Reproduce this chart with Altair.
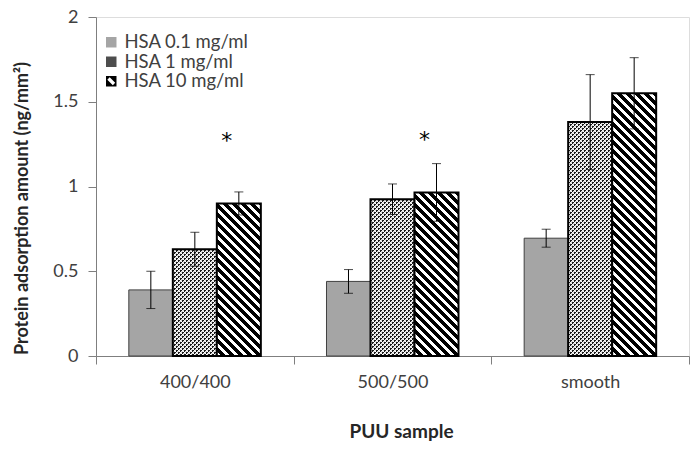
import math
import altair as alt
import pandas as pd

# ---------------- data ----------------
categories = ["400/400", "500/500", "smooth"]
series = ["HSA 0.1 mg/ml", "HSA 1 mg/ml", "HSA 10 mg/ml"]
hsa_01 = [0.39, 0.44, 0.695]
hsa_01_err = [0.11, 0.07, 0.053]
hsa_1 = [0.63, 0.925, 1.38]
hsa_1_err = [0.10, 0.09, 0.28]
hsa_10 = [0.90, 0.965, 1.55]
hsa_10_err = [0.068, 0.17, 0.21]
star_cats = ["400/400", "500/500"]
star_vals = [1.29, 1.30]
y_ticks = [0, 0.5, 1, 1.5, 2]

# ---------------- layout / style ----------------
W, H = 593, 339
PAD_L, PAD_T = 88, 9
PAGE = 8
Y_MAX = 2.0
OFF_PAD = 0.746
STEP = W / len(categories)
BAR_W = STEP / (len(series) + 2 * OFF_PAD)
FONT = "Lato"
LABEL_C = "#404040"
TITLE_C = "#262626"
AXIS_C = "#7f7f7f"

rows = []
for vals, errs, s in [(hsa_01, hsa_01_err, series[0]),
                      (hsa_1, hsa_1_err, series[1]),
                      (hsa_10, hsa_10_err, series[2])]:
    for c, v, e in zip(categories, vals, errs):
        rows.append({"category": c, "series": s, "value": v,
                     "lo": v - e, "hi": v + e})
df = pd.DataFrame(rows)
stars = pd.DataFrame({"category": star_cats, "series": [series[2]] * len(star_cats),
                      "value": star_vals})


def stripes(ci, si, v, period, frac, c_on, c_off, direction):
    """45-degree stripe fill as a linear gradient (objectBoundingBox units),
    phase-locked to the pixel grid so every bar shows the same texture."""
    w = BAR_W
    h = v / Y_MAX * H
    x0 = PAGE + PAD_L + ci * STEP + (OFF_PAD + si) * BAR_W
    y0 = PAGE + PAD_T + H - h
    L = w + h
    k = L / (w * w + h * h)
    if direction == "back":  # "\" stripes, d = X - Y + h
        x1, y1, x2, y2 = 0, 1, k * w, 1 - k * h
        phase = (0.5 + h - x0 + y0) % period
    else:  # "/" stripes, d = X + Y
        x1, y1, x2, y2 = 0, 0, k * w, k * h
        phase = (0.5 - x0 - y0) % period
    stops = []
    m = -1
    while True:
        a = phase + m * period
        if a > L:
            break
        b = a + frac * period
        c = a + period
        for s0, s1, col in [(a, b, c_on), (b, c, c_off)]:
            lo, hi = max(s0, 0), min(s1, L)
            if hi > lo:
                stops.append({"offset": lo / L, "color": col})
                stops.append({"offset": hi / L, "color": col})
        m += 1
    return {"gradient": "linear", "x1": x1, "y1": y1, "x2": x2, "y2": y2,
            "stops": stops}


x_axis = alt.Axis(title="PUU sample", labelAngle=0, tickBand="extent", ticks=True,
                  tickSize=8, tickColor=AXIS_C, domainColor=AXIS_C,
                  labelFont=FONT, labelFontSize=18, labelColor=LABEL_C,
                  labelPadding=9, titleFont=FONT, titleFontSize=19,
                  titleFontWeight="bold", titleColor=TITLE_C,
                  titleY=81, titleX=305, titleBaseline="alphabetic")
y_axis = alt.Axis(title="Protein adsorption amount (ng/mm²)", values=y_ticks,
                  format="~g", grid=False, tickSize=8, tickColor=AXIS_C,
                  domainColor=AXIS_C, labelFont=FONT, labelFontSize=18,
                  labelColor=LABEL_C, labelPadding=10, titleFont=FONT,
                  titleFontSize=18, titleFontWeight="bold", titleColor=TITLE_C,
                  titleX=-69, titleY=191, titleBaseline="alphabetic")

YS = alt.Scale(domain=[0, Y_MAX], nice=False)
X = alt.X("category:N", scale=alt.Scale(domain=categories, paddingInner=0, paddingOuter=0),
          axis=x_axis)
XO = alt.XOffset("series:N", scale=alt.Scale(domain=series, paddingInner=0,
                                              paddingOuter=OFF_PAD))
Y = alt.Y("value:Q", scale=YS, axis=y_axis)

base = alt.Chart(df)
layers = []

# gray bars
layers.append(base.transform_filter(alt.datum.series == series[0])
              .mark_bar(fill="#a5a5a5", stroke="#404040", strokeWidth=1)
              .encode(x=X, xOffset=XO, y=Y))

# dotted + hatched bars, one layer per bar (gradient depends on bar size)
for ci, (c, v) in enumerate(zip(categories, hsa_1)):
    f = (alt.datum.category == c) & (alt.datum.series == series[1])
    layers.append(base.transform_filter(f)
                  .mark_bar(fill=stripes(ci, 1, v, 4.0, 0.75, "#1a1a1a", "#ffffff", "back"))
                  .encode(x=X, xOffset=XO, y=Y))
    layers.append(base.transform_filter(f)
                  .mark_bar(fill=stripes(ci, 1, v, 4.0, 0.5, "rgba(255,255,255,0.85)",
                                         "rgba(255,255,255,0)", "fwd"),
                            stroke="#000000", strokeWidth=2)
                  .encode(x=X, xOffset=XO, y=Y))
for ci, (c, v) in enumerate(zip(categories, hsa_10)):
    f = (alt.datum.category == c) & (alt.datum.series == series[2])
    layers.append(base.transform_filter(f)
                  .mark_bar(fill=stripes(ci, 2, v, 9.0, 5 / 9, "#000000", "#ffffff", "back"),
                            stroke="#000000", strokeWidth=2)
                  .encode(x=X, xOffset=XO, y=Y))

# error bars
layers.append(base.mark_rule(color="#000000", strokeWidth=1)
              .encode(x=X, xOffset=XO, y=alt.Y("lo:Q", scale=YS, axis=y_axis),
                      y2="hi:Q"))
for fld in ["lo", "hi"]:
    layers.append(base.mark_tick(color="#000000", thickness=1, size=9)
                  .encode(x=X, xOffset=XO, y=alt.Y(f"{fld}:Q", scale=YS, axis=y_axis)))

# significance stars
layers.append(alt.Chart(stars).mark_text(text="*", font="DejaVu Sans", fontSize=22,
                                          dx=-12, dy=4, color="#000000",
                                          baseline="middle")
              .encode(x=X, xOffset=XO, y=Y))

# legend carrier (invisible points; legend symbols reproduce the fill patterns)
sq = "M-1,-1H1V1H-1Z"
hatch = "M-1,-1H1V1H-1Z M-0.3,-0.75L-0.75,-0.3L0.3,0.75L0.75,0.3Z"
leg = alt.Legend(title=None, orient="none", legendX=6, legendY=16, padding=0,
                 labelFont=FONT, labelFontSize=18.5, labelColor=LABEL_C, labelOffset=4,
                 symbolSize=110, symbolOpacity=1, symbolStrokeColor="#262626",
                 symbolStrokeWidth=1, rowPadding=0.5)
layers.append(base.mark_point(filled=True, opacity=0)
              .encode(x=X, xOffset=XO, y=Y,
                      color=alt.Color("series:N", scale=alt.Scale(domain=series,
                                      range=["#a5a5a5", "#4d4d4d", "#000000"]), legend=leg),
                      shape=alt.Shape("series:N", scale=alt.Scale(domain=series,
                                      range=[sq, sq, hatch]), legend=leg)))

chart = (alt.layer(*layers)
         .properties(width=W, height=H, autosize=alt.AutoSizeParams(type="none"),
                     padding={"left": PAD_L, "top": PAD_T, "right": 2, "bottom": 94})
         .configure_view(stroke=AXIS_C, strokeWidth=1)
         .configure(background="white"))

chart.save("out.html", embed_options={"renderer": "svg", "actions": False})
